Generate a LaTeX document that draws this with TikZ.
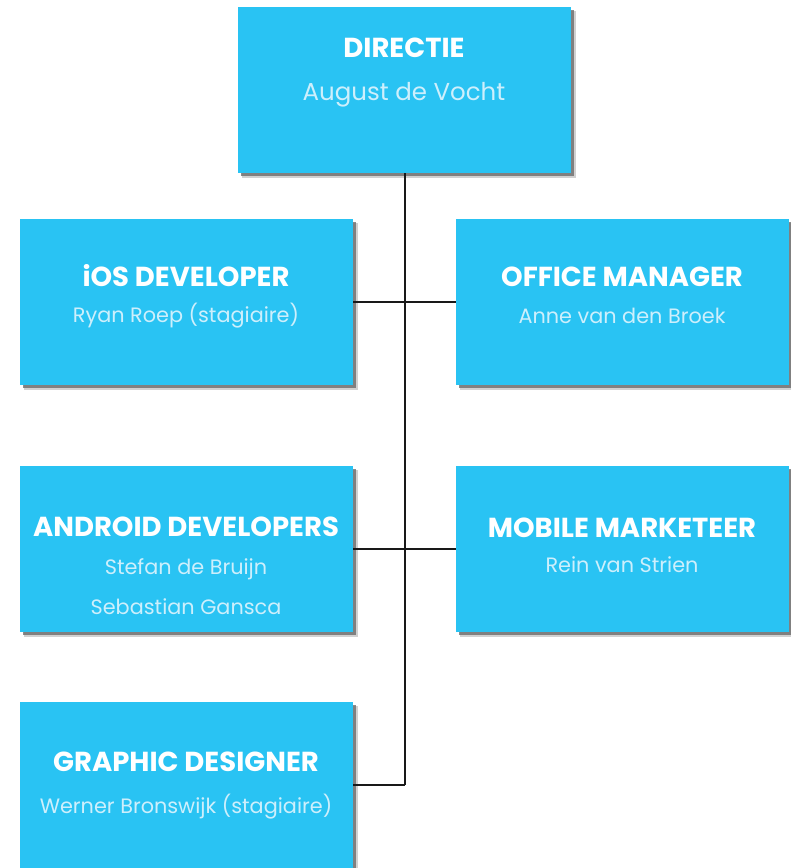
\documentclass[tikz,border=0pt]{standalone}
\usepackage{fontspec}
\setmainfont{Poppins}
\definecolor{boxblue}{RGB}{41,195,243}
\definecolor{subtext}{RGB}{205,239,252}
\begin{document}
\begin{tikzpicture}[x=1pt,y=-1pt,
  rolebox/.style={draw=none,fill=boxblue,minimum width=333pt,minimum height=166pt,
    inner sep=0pt,anchor=north west},
  title/.style={anchor=base,text=white,font=\bfseries\fontsize{27.5}{32}\selectfont,inner sep=0pt},
  person/.style={anchor=base,text=subtext,font=\fontsize{20.8}{25}\selectfont,inner sep=0pt},
  bigperson/.style={anchor=base,text=subtext,font=\fontsize{24.5}{29}\selectfont,inner sep=0pt},
  link/.style={draw=black!90,line width=2pt},
  shade/.style={fill=black!75,opacity=0.6}]
\useasboundingbox (0,0) rectangle (791,868);

% soft shadows behind the boxes
\foreach \x/\y in {238/7,20/219,456/219,20/466,456/466,20/702}{
  \fill[shade] (\x+3,\y+3) rectangle (\x+336,\y+169);
  \fill[black!60,opacity=0.3] (\x+4,\y+4) rectangle (\x+338,\y+171);
}

% boxes
\node[rolebox] (dir) at (238,7) {};
\node[rolebox] (ios) at (20,219) {};
\node[rolebox] (office) at (456,219) {};
\node[rolebox] (android) at (20,466) {};
\node[rolebox] (mobile) at (456,466) {};
\node[rolebox] (graphic) at (20,702) {};

% connectors
\draw[link] (dir.south) -- (dir.south |- graphic.east) coordinate (jg);
\draw[link] (ios.east) -- (office.west);
\draw[link] (android.east) -- (mobile.west);
\draw[link] (graphic.east) -- (jg);

% texts
\node[title] (dirt) at (404,57.5) {DIRECTIE};
\node[bigperson] (dirp) at (404,100.5) {August de Vocht};

\node[title] (iost) at (186,286) {iOS DEVELOPER};
\node[person] (iosp) at (186,322.5) {Ryan Roep (stagiaire)};

\node[title] (offt) at (622,286) {OFFICE MANAGER};
\node[person] (offp) at (622,323.5) {Anne van den Broek};

\node[title] (andt) at (186,536.5) {ANDROID DEVELOPERS};
\node[person] (andp1) at (186,574.5) {Stefan de Bruijn};
\node[person] (andp2) at (186,614.5) {Sebastian Gansca};

\node[title] (mobt) at (622,537) {MOBILE MARKETEER};
\node[person] (mobp) at (622,572.5) {Rein van Strien};

\node[title] (grat) at (186,771) {GRAPHIC DESIGNER};
\node[person] (grap) at (186,813.5) {Werner Bronswijk (stagiaire)};
\end{tikzpicture}
\end{document}
